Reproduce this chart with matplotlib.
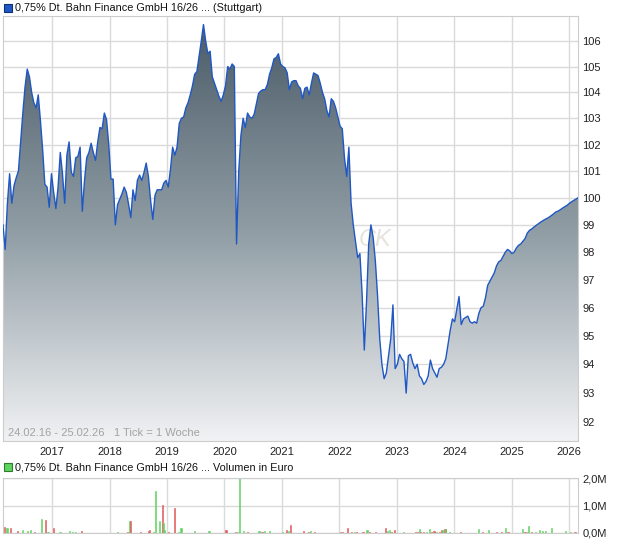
import numpy as np
import pandas as pd
import matplotlib
matplotlib.use('Agg')
import matplotlib.pyplot as plt
from matplotlib.colors import LinearSegmentedColormap
from matplotlib.patches import Rectangle
from matplotlib.ticker import NullLocator

plt.rcParams['font.family'] = ['Liberation Sans', 'DejaVu Sans']

start = '2016-02-24'
end = '2026-02-25'
price = [
    99.0, 98.1, 99.8, 100.9, 99.8, 100.45, 100.75, 101.0, 102.1, 103.2,
    104.2, 104.9, 104.6, 104.0, 103.6, 103.4, 103.9, 102.9, 101.8, 100.5,
    100.4, 99.65, 100.9, 100.2, 99.6, 100.4, 101.7, 100.9, 99.8, 101.6,
    102.1, 100.95, 100.8, 101.5, 101.55, 101.9, 99.5, 100.65, 101.5, 101.7,
    102.05, 101.7, 101.4, 102.1, 102.65, 102.6, 103.2, 102.95, 102.0, 100.7,
    100.7, 99.0, 99.75, 99.95, 100.15, 100.4, 100.2, 99.77, 99.27, 100.3,
    99.9, 100.65, 100.85, 100.65, 100.95, 101.3, 100.8, 99.9, 99.2, 100.1,
    100.3, 100.3, 100.3, 100.55, 100.65, 100.4, 101.05, 101.9, 101.6, 101.9,
    102.8, 103.0, 103.05, 103.4, 103.6, 103.9, 104.25, 104.7, 104.8, 105.4,
    106.0, 106.65, 106.0, 105.5, 105.6, 104.6, 104.35, 104.1, 103.85, 103.65,
    103.9, 104.25, 105.0, 104.9, 105.1, 105.0, 98.3, 101.0, 102.35, 103.0,
    102.65, 103.2, 103.05, 103.0, 103.15, 103.55, 103.95, 104.05, 104.1, 104.1,
    104.3, 104.7, 104.95, 105.3, 105.35, 105.5, 105.1, 105.0, 104.95, 104.75,
    104.1, 104.4, 104.45, 104.45, 104.25, 104.15, 103.75, 104.15, 104.2, 103.9,
    104.35, 104.75, 104.7, 104.65, 104.35, 104.0, 103.75, 103.3, 103.05, 103.75,
    103.65, 103.4, 103.05, 102.7, 102.6, 101.5, 100.8, 101.9, 99.8, 99.0,
    98.4, 97.8, 97.95, 96.5, 94.5, 96.2, 98.3, 99.0, 98.55, 97.7,
    96.45, 94.9, 94.0, 93.5, 93.7, 94.3, 94.9, 96.1, 93.85, 94.0,
    94.35, 94.2, 94.1, 93.0, 94.3, 94.35, 94.05, 93.85, 94.0, 93.6,
    93.5, 93.3, 93.4, 93.6, 94.15, 93.85, 93.7, 93.55, 93.85, 93.9,
    94.0, 94.2, 94.7, 95.2, 95.6, 95.5, 95.95, 96.4, 95.4, 95.6,
    95.65, 95.7, 95.5, 95.45, 95.5, 95.45, 95.8, 96.0, 96.05, 96.35,
    96.8, 96.95, 97.1, 97.25, 97.5, 97.65, 97.7, 97.85, 98.0, 98.1,
    98.05, 97.95, 98.0, 98.15, 98.25, 98.3, 98.4, 98.5, 98.7, 98.8,
    98.85, 98.92, 98.98, 99.04, 99.1, 99.15, 99.2, 99.24, 99.29, 99.35,
    99.41, 99.48, 99.51, 99.56, 99.62, 99.67, 99.72, 99.79, 99.85, 99.9,
    99.95, 100.0,
]
years = list(range(2017, 2027))
price_ticks = list(range(92, 107))

# Umsatz in Mio. Euro, True = gruener Balken
vol_dates = [
    '2016-03-05', '2016-03-15', '2016-03-22', '2016-04-14', '2016-05-25', '2016-06-26',
    '2016-07-29', '2016-08-15', '2016-09-09', '2016-10-24', '2016-11-18', '2016-12-06',
    '2017-01-08', '2017-02-20', '2017-04-23', '2017-05-13', '2017-05-31', '2017-07-05',
    '2018-02-23', '2018-04-27', '2018-05-07', '2018-05-12', '2018-07-16', '2018-09-07',
    '2018-09-14', '2018-10-09', '2018-10-22', '2018-11-16', '2018-12-01', '2018-12-11',
    '2018-12-18', '2019-01-10', '2019-02-19', '2019-03-13', '2019-03-31', '2019-06-27',
    '2019-09-25', '2020-01-08', '2020-01-13', '2020-03-12', '2020-03-25', '2020-04-04',
    '2020-05-04', '2020-05-24', '2020-08-02', '2020-08-12', '2020-08-27', '2020-09-11',
    '2020-10-16', '2021-01-04', '2021-01-29', '2021-02-13', '2021-02-26', '2021-05-17',
    '2021-06-19', '2021-07-03', '2021-07-29', '2022-01-10', '2022-01-20', '2022-02-19',
    '2022-03-21', '2022-04-05', '2022-04-20', '2022-05-31', '2022-06-25', '2022-07-10',
    '2022-08-19', '2022-10-21', '2022-11-03', '2022-11-17', '2022-11-28', '2022-12-15',
    '2023-02-11', '2023-04-27', '2023-05-10', '2023-05-22', '2023-06-01', '2023-06-21',
    '2023-07-06', '2023-07-26', '2023-08-10', '2023-08-25', '2023-09-12', '2023-09-29',
    '2023-10-12', '2023-10-19', '2023-11-03', '2023-11-08', '2023-12-03', '2024-02-09',
    '2024-06-01', '2024-06-26', '2024-08-06', '2024-09-23', '2024-10-25', '2024-11-19',
    '2024-12-07', '2025-03-09', '2025-03-25', '2025-04-11', '2025-04-19', '2025-05-07',
    '2025-06-01', '2025-06-26', '2025-07-13', '2025-08-02', '2025-09-09', '2025-12-05',
    '2026-01-11', '2026-02-06',
]
vol_mio = [
    0.21, 0.20, 0.20, 0.17, 0.07, 0.10,
    0.09, 0.10, 0.02, 0.52, 0.49, 0.03,
    0.20, 0.03, 0.07, 0.03, 0.03, 0.07,
    0.03, 0.02, 0.42, 0.42, 0.02, 0.08,
    0.10, 0.03, 1.54, 0.42, 1.03, 0.38,
    0.12, 0.02, 0.92, 0.02, 0.20, 0.08,
    0.07, 0.10, 0.10, 0.03, 0.05, 2.10,
    0.07, 0.02, 0.07, 0.07, 0.03, 0.08,
    0.07, 0.03, 0.10, 0.09, 0.30, 0.07,
    0.03, 0.07, 0.02, 0.03, 0.03, 0.17,
    0.03, 0.03, 0.03, 0.02, 0.10, 0.03,
    0.03, 0.20, 0.07, 0.10, 0.03, 0.11,
    0.03, 0.03, 0.03, 0.15, 0.05, 0.03,
    0.03, 0.15, 0.03, 0.06, 0.03, 0.03,
    0.11, 0.11, 0.14, 0.14, 0.03, 0.03,
    0.14, 0.03, 0.11, 0.03, 0.03, 0.18,
    0.03, 0.14, 0.03, 0.03, 0.24, 0.03,
    0.03, 0.10, 0.07, 0.08, 0.20, 0.08,
    0.03, 0.03,
]
vol_up = [
    False, True, True, False, False, True,
    True, True, False, True, False, True,
    False, True, True, True, True, False,
    True, False, True, False, False, False,
    False, True, True, True, False, True,
    True, False, False, True, True, True,
    True, False, False, False, True, True,
    True, False, True, True, False, True,
    True, True, False, True, False, False,
    False, True, False, False, False, False,
    False, True, False, False, True, False,
    False, False, True, True, False, False,
    True, False, False, True, False, False,
    True, True, False, False, True, False,
    False, True, False, True, True, False,
    True, False, True, False, False, True,
    False, True, False, True, True, False,
    True, True, True, True, True, True,
    True, False,
]

dates = pd.date_range(start, periods=len(price), freq='14D')
t0, t1 = pd.Timestamp(start), pd.Timestamp(end)
year_pos = [pd.Timestamp(f'{y}-01-01') for y in years]
grid_col = '#dadada'
line_col = '#1f58c4'

fig = plt.figure(figsize=(6.2, 5.46), dpi=100)

# --- Kurschart ---
ax = fig.add_axes([3/620, 105/546, 575/620, 425/546])
ax.set_autoscale_on(False)
ax.set_yscale('log')

fill = ax.fill_between(dates, price, 80, facecolor='none', edgecolor='none')
grad = np.linspace(0, 1, 256).reshape(-1, 1)
cmap = LinearSegmentedColormap.from_list('grau', ['#495a66', '#8f9ca4', '#f1f2f4'])
im = ax.imshow(grad, cmap=cmap, aspect='auto', extent=[0, 1, 0, 1],
               transform=ax.transAxes, zorder=2)
im.set_clip_path(fill.get_paths()[0], transform=ax.transData)
ax.plot(dates, price, color=line_col, lw=1.0, zorder=3)

ax.set_xlim(t0, t1)
ax.set_ylim(91.36, 106.99)
ax.set_xticks(year_pos)
ax.set_xticklabels([str(y) for y in years])
ax.set_yticks(price_ticks)
ax.set_yticklabels([str(p) for p in price_ticks])
ax.yaxis.set_minor_locator(NullLocator())
ax.yaxis.tick_right()
ax.tick_params(length=0, labelsize=8, pad=4, colors='#222222')
ax.tick_params(axis='y', pad=3)
ax.grid(True, color=grid_col, lw=1, zorder=0)
ax.set_axisbelow(True)
for s in ax.spines.values():
    s.set_color('#cccccc')

ax.text(0.647, 0.473, 'CK', transform=ax.transAxes, fontsize=17, style='italic',
        color='#e6e2dc', ha='center', va='center', zorder=1)
ax.text(0.009, 0.006, '24.02.16 - 25.02.26   1 Tick = 1 Woche', transform=ax.transAxes,
        fontsize=8, color='#a3a3a3', ha='left', va='bottom', zorder=5)

fig.add_artist(Rectangle((4/620, 1 - 12/546), 8/620, 8/546, transform=fig.transFigure,
                         facecolor=line_col, edgecolor='#0d2f73', lw=0.8))
fig.text(15/620, 1 - 8/546, '0,75% Dt. Bahn Finance GmbH 16/26 ... (Stuttgart)',
         fontsize=7.8, va='center', ha='left', color='#111111')

# --- Volumen ---
vax = fig.add_axes([3/620, 13/546, 575/620, 55/546])
vcol = ['#5fd35f' if u else '#e05a5a' for u in vol_up]
vax.bar(pd.to_datetime(vol_dates), np.array(vol_mio) * 1e6, width=7, color=vcol,
        edgecolor=vcol, lw=0.4, zorder=2)
vax.set_xlim(t0, t1)
vax.set_ylim(0, 2.0e6)
vax.set_xticks(year_pos)
vax.set_xticklabels([])
vax.set_yticks([0, 1.0e6, 2.0e6])
vax.set_yticklabels(['0,0M', '1,0M', '2,0M'])
vax.yaxis.tick_right()
vax.tick_params(length=0, labelsize=8, pad=3, colors='#222222')
vax.grid(True, color=grid_col, lw=1, zorder=0)
vax.set_axisbelow(True)
for s in vax.spines.values():
    s.set_color('#cccccc')

fig.add_artist(Rectangle((4/620, 1 - 471/546), 8/620, 8/546, transform=fig.transFigure,
                         facecolor='#5fd35f', edgecolor='#2e7d2e', lw=0.8))
fig.text(15/620, 1 - 467/546, '0,75% Dt. Bahn Finance GmbH 16/26 ... Volumen in Euro',
         fontsize=7.8, va='center', ha='left', color='#111111')

fig.savefig('out.png', dpi=100)
